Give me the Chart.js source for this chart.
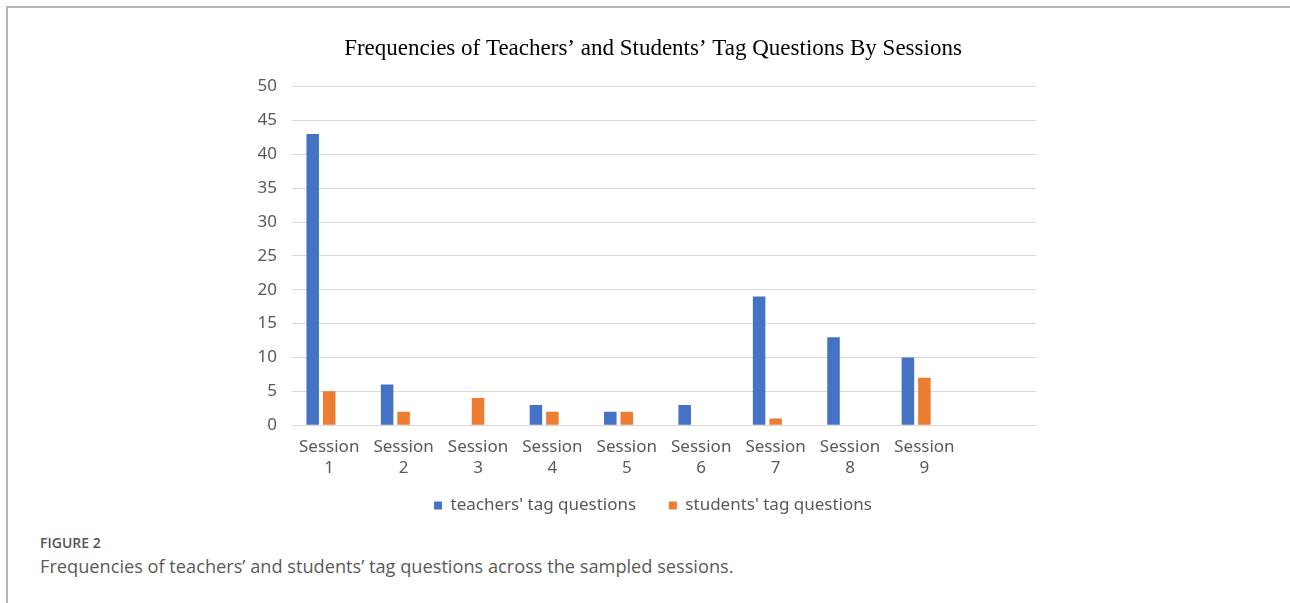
<!DOCTYPE html>
<html>
<head>
<meta charset="utf-8">
<script src="https://cdn.jsdelivr.net/npm/chart.js@4"></script>
<style>
  html, body { margin: 0; padding: 0; background: #fff; }
  body { width: 1290px; height: 603px; position: relative; overflow: hidden; }
  .frame { position: absolute; left: 6px; top: 6px; right: -4px; bottom: -4px;
           border-top: 2px solid #b5b5b5; border-left: 2px solid #b5b5b5; }
  .box { position: absolute; left: 0; top: 0; width: 1290px; height: 524px; }
  .fig { position: absolute; left: 40px; top: 533px; font: 600 14px "Open Sans", sans-serif; color: #555; }
  .cap { position: absolute; left: 40px; top: 554px; font: 18.2px "Open Sans", sans-serif; color: #5a5a5a; }
</style>
</head>
<body>
<div class="frame"></div>
<div class="box"><canvas id="c"></canvas></div>
<div class="fig">FIGURE 2</div>
<div class="cap">Frequencies of teachers’ and students’ tag questions across the sampled sessions.</div>
<script>
// sessions (the 10th slot is empty in the original)
const sessions = [
  ["Session", "1"], ["Session", "2"], ["Session", "3"], ["Session", "4"], ["Session", "5"],
  ["Session", "6"], ["Session", "7"], ["Session", "8"], ["Session", "9"], ""
];
const teachers = [43, 6, 0, 3, 2, 3, 19, 13, 10, null];
const students = [5, 2, 4, 2, 2, 0, 1, 0, 7, null];
const yTicks = [0, 5, 10, 15, 20, 25, 30, 35, 40, 45, 50];

const grey = "#595959";
const axisFont = { family: "'Noto Sans', sans-serif", size: 17 };

const chart = new Chart(document.getElementById("c"), {
  type: "bar",
  data: {
    labels: sessions,
    datasets: [
      { label: "teachers' tag questions", data: teachers, backgroundColor: "#4472C4" },
      { label: "students' tag questions", data: students, backgroundColor: "#ED7D31" },
      // empty third slot, like the hidden series in the source chart
      { label: "", data: [], backgroundColor: "rgba(0,0,0,0)" }
    ]
  },
  options: {
    responsive: true,
    maintainAspectRatio: false,
    animation: false,
    categoryPercentage: 0.665,
    barPercentage: 0.76,
    layout: { padding: { left: 232, right: 216, top: 0, bottom: 0 } },
    plugins: {
      title: {
        display: true,
        text: "Frequencies of Teachers’ and Students’ Tag Questions By Sessions",
        font: { family: "'Liberation Serif', serif", size: 23, weight: "normal" },
        color: "#000",
        padding: { top: 35, bottom: 24 }
      },
      legend: {
        position: "bottom",
        labels: {
          boxWidth: 8, boxHeight: 8, padding: 15,
          color: grey, font: axisFont,
          generateLabels: c => Chart.defaults.plugins.legend.labels.generateLabels(c)
            .filter(item => item.datasetIndex < 2)
            .map(item => ({ ...item, text: item.datasetIndex === 0 ? item.text + "    " : item.text }))
        }
      },
      tooltip: { enabled: false }
    },
    scales: {
      x: {
        grid: { display: false },
        border: { color: "#d9d9d9" },
        ticks: { color: grey, font: axisFont, padding: 4, autoSkip: false, maxRotation: 0 }
      },
      y: {
        min: 0, max: 50,
        afterBuildTicks: s => { s.ticks = yTicks.map(v => ({ value: v })); },
        grid: { color: "#d9d9d9", drawTicks: false },
        border: { display: false },
        ticks: { color: grey, font: axisFont, padding: 15 },
        afterFit: s => { s.width = 60; }
      },
      y2: {
        position: "right",
        display: true,
        grid: { display: false },
        border: { display: false },
        ticks: { display: false },
        afterFit: s => { s.width = 38; }
      }
    }
  }
});
</script>
</body>
</html>
